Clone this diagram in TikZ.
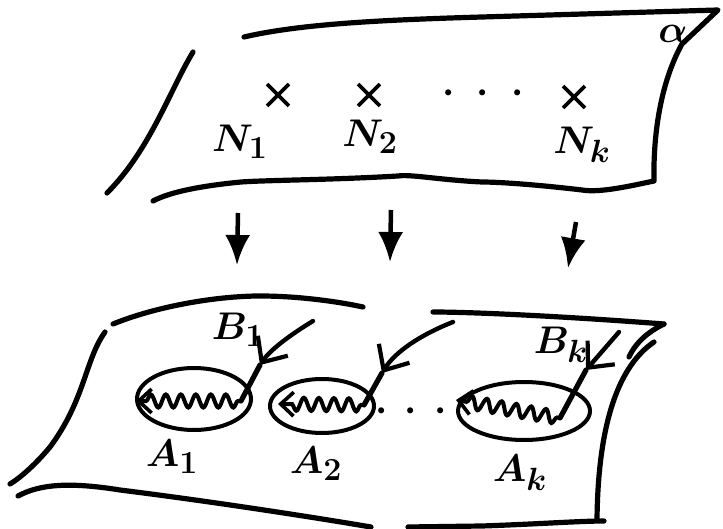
\documentclass[tikz,border=0pt]{standalone}
\usepackage{amsmath,amssymb}
\usetikzlibrary{arrows.meta,positioning,shapes.geometric,shapes.misc,decorations.pathmorphing}

\begin{document}
\begin{tikzpicture}[x=1pt, y=-1pt,
    sheet/.style={line width=5.2pt, line cap=round, line join=round},
    pt/.style={draw, cross out, line width=3.8pt, minimum size=18pt, inner sep=0pt},
    lab/.style={font=\Huge\boldmath, scale=1.55, inner sep=0pt},
    blob/.style={draw, ellipse, line width=4pt, inner sep=0pt},
    down/.style={-{Latex[length=30pt,width=25pt]}, line width=4.5pt},
    flow/.style={-{Straight Barb[length=20pt,width=36pt,line width=4.2pt]}, line width=4.4pt, line cap=round},
    wave/.style={-{Straight Barb[length=13pt,width=24pt,line width=3.6pt]}, line width=4pt,
      decorate, decoration={snake, amplitude=6.5pt, segment length=15pt, pre length=3pt, post length=10pt}}
  ]
  \useasboundingbox (0,0) rectangle (723,529);

  % upper sheet
  \draw[sheet] (244,37) .. controls (300,24) and (380,20) .. (482,17) -- (718,10) -- (682,44)
    .. controls (662,80) and (653,130) .. (654,181)
    .. controls (630,186) and (600,193) .. (582,190) .. controls (540,185) and (500,182) .. (482,182)
    .. controls (440,180) and (410,174) .. (398,176) .. controls (330,180) and (270,180) .. (241,182)
    .. controls (200,186) and (170,192) .. (153,201);
  \draw[sheet] (193,52) .. controls (170,90) and (150,150) .. (107,193);
  \node[lab] (alpha) at (673,34) {$\alpha$};

  \node[pt] (n1) at (278,95) {};
  \node[pt] (n2) at (369,95) {};
  \node[pt] (nk) at (574,97) {};
  \node[lab] (ndots) at (483,93) {$\cdot\;\cdot\;\cdot$};
  \node[lab] (N1) at (240,142) {$N_1$};
  \node[lab] (N2) at (370,137) {$N_2$};
  \node[lab] (Nk) at (582,145) {$N_k$};

  % from top to bottom
  \coordinate (d1a) at (238,213); \coordinate (d1b) at (237,265);
  \coordinate (d2a) at (391,210); \coordinate (d2b) at (390,262);
  \coordinate (d3a) at (576,222); \coordinate (d3b) at (568,268);
  \foreach \i in {1,2,3}
    \draw[down] (d\i a) -- (d\i b);

  % lower sheet
  \draw[sheet] (113,324) .. controls (160,305) and (220,296) .. (260,296) .. controls (300,296) and (340,302) .. (363,307);
  \draw[sheet] (433,312) .. controls (470,312) and (560,316) .. (664,324);
  \draw[sheet] (664,324) .. controls (648,332) and (636,342) .. (629,357);
  \draw[sheet] (654,342) .. controls (620,365) and (598,420) .. (597,520);
  \draw[sheet] (105,332) .. controls (85,360) and (85,400) .. (50,447) .. controls (35,465) and (20,478) .. (10,484);
  \draw[sheet] (18,496) .. controls (40,484) and (70,482) .. (120,490) .. controls (200,500) and (300,515) .. (371,527);
  \draw[sheet] (408,527) -- (482,526) .. controls (540,524) and (580,521) .. (604,521);

  \node[blob, minimum width=114pt, minimum height=62pt] (a1) at (194,399) {};
  \node[blob, minimum width=104pt, minimum height=54pt] (a2) at (322,406) {};
  \node[blob, minimum width=132pt, minimum height=58pt] (ak) at (524,411) {};
  \node[lab] (adots) at (411,411) {$\cdot\,\cdot\,\cdot$};

  \node[lab] (A1) at (172,457) {$A_1$};
  \node[lab] (A2) at (316,464) {$A_2$};
  \node[lab] (Ak) at (520,473) {$A_k$};
  \node[lab] (B1) at (238,330) {$B_1$};
  \node[lab] (Bk) at (561,345) {$B_k$};

  % incoming curves
  \coordinate (f1a) at (313,321); \coordinate (f1b) at (260,365); \coordinate (f1c) at (241,401);
  \coordinate (f2a) at (453,322); \coordinate (f2b) at (382,373); \coordinate (f2c) at (364,405);
  \coordinate (fka) at (619,332); \coordinate (fkb) at (586,370); \coordinate (fkc) at (560,418);
  \draw[flow] (f1a) .. controls (290,335) and (270,350) .. (f1b);
  \draw[flow] (f2a) .. controls (420,335) and (395,352) .. (f2b);
  \draw[flow] (fka) -- (fkb);
  \draw[sheet] (f1b) -- (f1c);
  \draw[sheet] (f2b) -- (f2c);
  \draw[sheet] (fkb) -- (fkc);

  \draw[wave] (f1c) -- (136,401);
  \draw[wave] (f2c) -- (278,404);
  \draw[wave] (fkc) -- (456,400);
\end{tikzpicture}
\end{document}
